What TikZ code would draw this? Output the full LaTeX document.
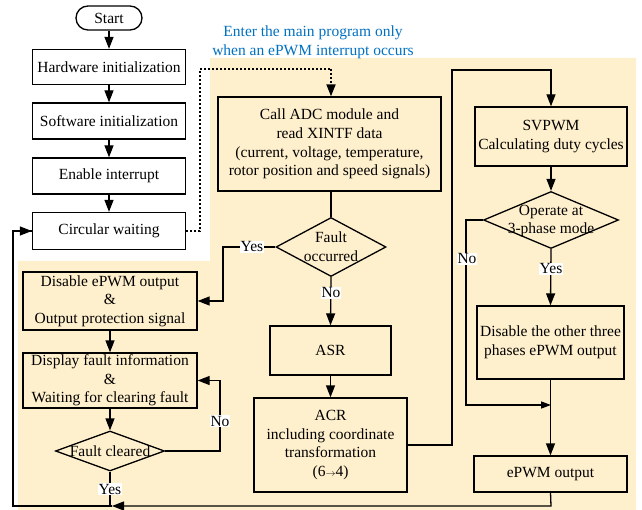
\documentclass[tikz,border=0pt]{standalone}
\usepackage{fontspec}
\setmainfont{Liberation Serif}
\usetikzlibrary{shapes.geometric,arrows.meta}
\definecolor{beige}{RGB}{255,240,205}
\definecolor{noteblue}{RGB}{0,112,192}
\tikzset{
  x=1pt,y=-1pt,
  txt/.style={font=\fontsize{15.5}{18.7}\selectfont, align=center},
  box/.style={draw, line width=1.3pt, inner sep=0pt, txt},
  wbox/.style={box, fill=white},
  bbox/.style={box, fill=beige},
  dia/.style={draw, line width=1.3pt, shape=diamond, inner sep=0pt, fill=beige},
  conn/.style={line width=1.3pt},
  arr/.style={line width=1.3pt, -{Triangle[length=12pt,width=9pt]}},
  lbl/.style={fill=white, inner sep=1pt, txt},
}
\begin{document}
\begin{tikzpicture}
\useasboundingbox (0,0) rectangle (642,510);
% background
\fill[beige] (210,58) -- (636,58) -- (636,510) -- (18,510) -- (18,261) -- (210,261) -- cycle;

% note
\node[txt, text=noteblue] (note) at (313,42) {Enter the main program only\\when an ePWM interrupt occurs};

% left column
\node[draw, line width=1.3pt, rounded corners=12pt, minimum width=66, minimum height=24, inner sep=0pt, txt] (start) at (109,18) {Start};
\node[wbox, minimum width=153, minimum height=35] (hw) at (109,67) {Hardware initialization};
\node[wbox, minimum width=153, minimum height=36] (sw) at (109,121) {Software initialization};
\node[wbox, minimum width=153, minimum height=36] (en) at (109,176) {Enable interrupt};
\node[wbox, minimum width=153, minimum height=37] (cw) at (109,231) {Circular waiting};

\node[bbox, minimum width=174, minimum height=58] (dis) at (110,301) {Disable ePWM output\\\&\\Output protection signal};
\node[bbox, minimum width=174, minimum height=55] (disp) at (110,380.5) {Display fault information\\\&\\Waiting for clearing fault};
\node[dia, minimum width=109, minimum height=40] (fc) at (110,451) {};
\node[txt] (fct) at (110,451) {Fault cleared};

% middle column
\node[bbox, minimum width=223, minimum height=94] (adc) at (329.5,144) {Call ADC module and\\read XINTF data\\(current, voltage, temperature,\\rotor position and speed signals)};
\node[dia, minimum width=110, minimum height=59] (fo) at (331,247) {};
\node[txt] (fot) at (331,247) {Fault\\occurred};
\node[bbox, minimum width=121, minimum height=49] (asr) at (330.5,350.5) {ASR};
\node[bbox, minimum width=153, minimum height=94] (acr) at (330.5,445) {ACR\\including coordinate\\transformation\\(6{\fontsize{10}{10}\selectfont$\rightarrow$}4)};

% right column
\node[bbox, minimum width=152, minimum height=59] (svp) at (551,136.5) {SVPWM\\Calculating duty cycles};
\node[dia, minimum width=135, minimum height=57] (op) at (551,220) {};
\node[txt] (opt) at (551,221) {Operate at\\3-phase mode};
\node[bbox, minimum width=147, minimum height=73] (d3) at (550.5,342.5) {Disable the other three\\phases ePWM output};
\node[bbox, minimum width=153, minimum height=36] (out) at (550.5,474) {ePWM output};

% left column arrows
\draw[arr] (start) -- (hw);
\draw[arr] (hw) -- (sw);
\draw[arr] (sw) -- (en);
\draw[arr] (en) -- (cw);

% dotted interrupt link
\coordinate (dt1) at (200,231);
\coordinate (dt2) at (200,69);
\coordinate (dt3) at (331,69);
\draw[line width=1.8pt, dash pattern=on 2pt off 2pt] (cw.east) -- (dt1) -- (dt2) -- (dt3);
\draw[line width=1.8pt, -{Triangle[length=12pt,width=9pt]}, dash pattern=on 2pt off 2pt] (dt3) -- (adc.north -| dt3);

% middle column
\draw[conn] (adc.south -| fo) -- (fo.north);
\coordinate (y1) at (223,247);
\draw[arr] (fo.west) -- (y1) |- (dis.east);
\node[lbl] (yes1) at (252,247) {Yes};
\draw[arr] (fo.south) -- (asr.north);
\node[lbl] (no1) at (331,293) {No};
\draw[arr] (asr) -- (acr);
\coordinate (r1) at (452,445);
\coordinate (r2) at (452,70);
\draw[arr] (acr.east |- r1) -- (r1) -- (r2) -| (svp.north);

% left lower
\draw[arr] (dis) -- (disp);
\draw[arr] (disp) -- (fc.north);
\coordinate (n1) at (220,451);
\draw[arr] (fc.east) -- (n1) |- (disp.east);
\node[lbl] (no2) at (220,421) {No};

% right column
\draw[arr] (svp) -- (op.north);
\coordinate (n2) at (466,220);
\coordinate (n3) at (466,405);
\coordinate (j1) at (551,405);
\draw[line width=1.3pt, -{Triangle[length=10pt,width=7pt]}] (op.west) -- (n2) -- (n3) -- (j1);
\node[lbl] (no3) at (467,259) {No};
\draw[arr] (op.south) -- (d3.north);
\node[lbl] (yes3) at (551,269) {Yes};
\draw[arr] (d3) -- (out);

% return path
\coordinate (b1) at (551,506);
\coordinate (b2) at (112,506);
\coordinate (b3) at (13,506);
\coordinate (b4) at (110,506);
\draw[arr] (out.south) -- (b1) -- (b2);
\draw[conn] (b2) -- (b3) |- (cw.west);
\draw[arr] (b3 |- cw) -- (cw.west);
\draw[conn] (fc.south) -- (b4);
\node[lbl] (yes2) at (110,489) {Yes};
\end{tikzpicture}
\end{document}
